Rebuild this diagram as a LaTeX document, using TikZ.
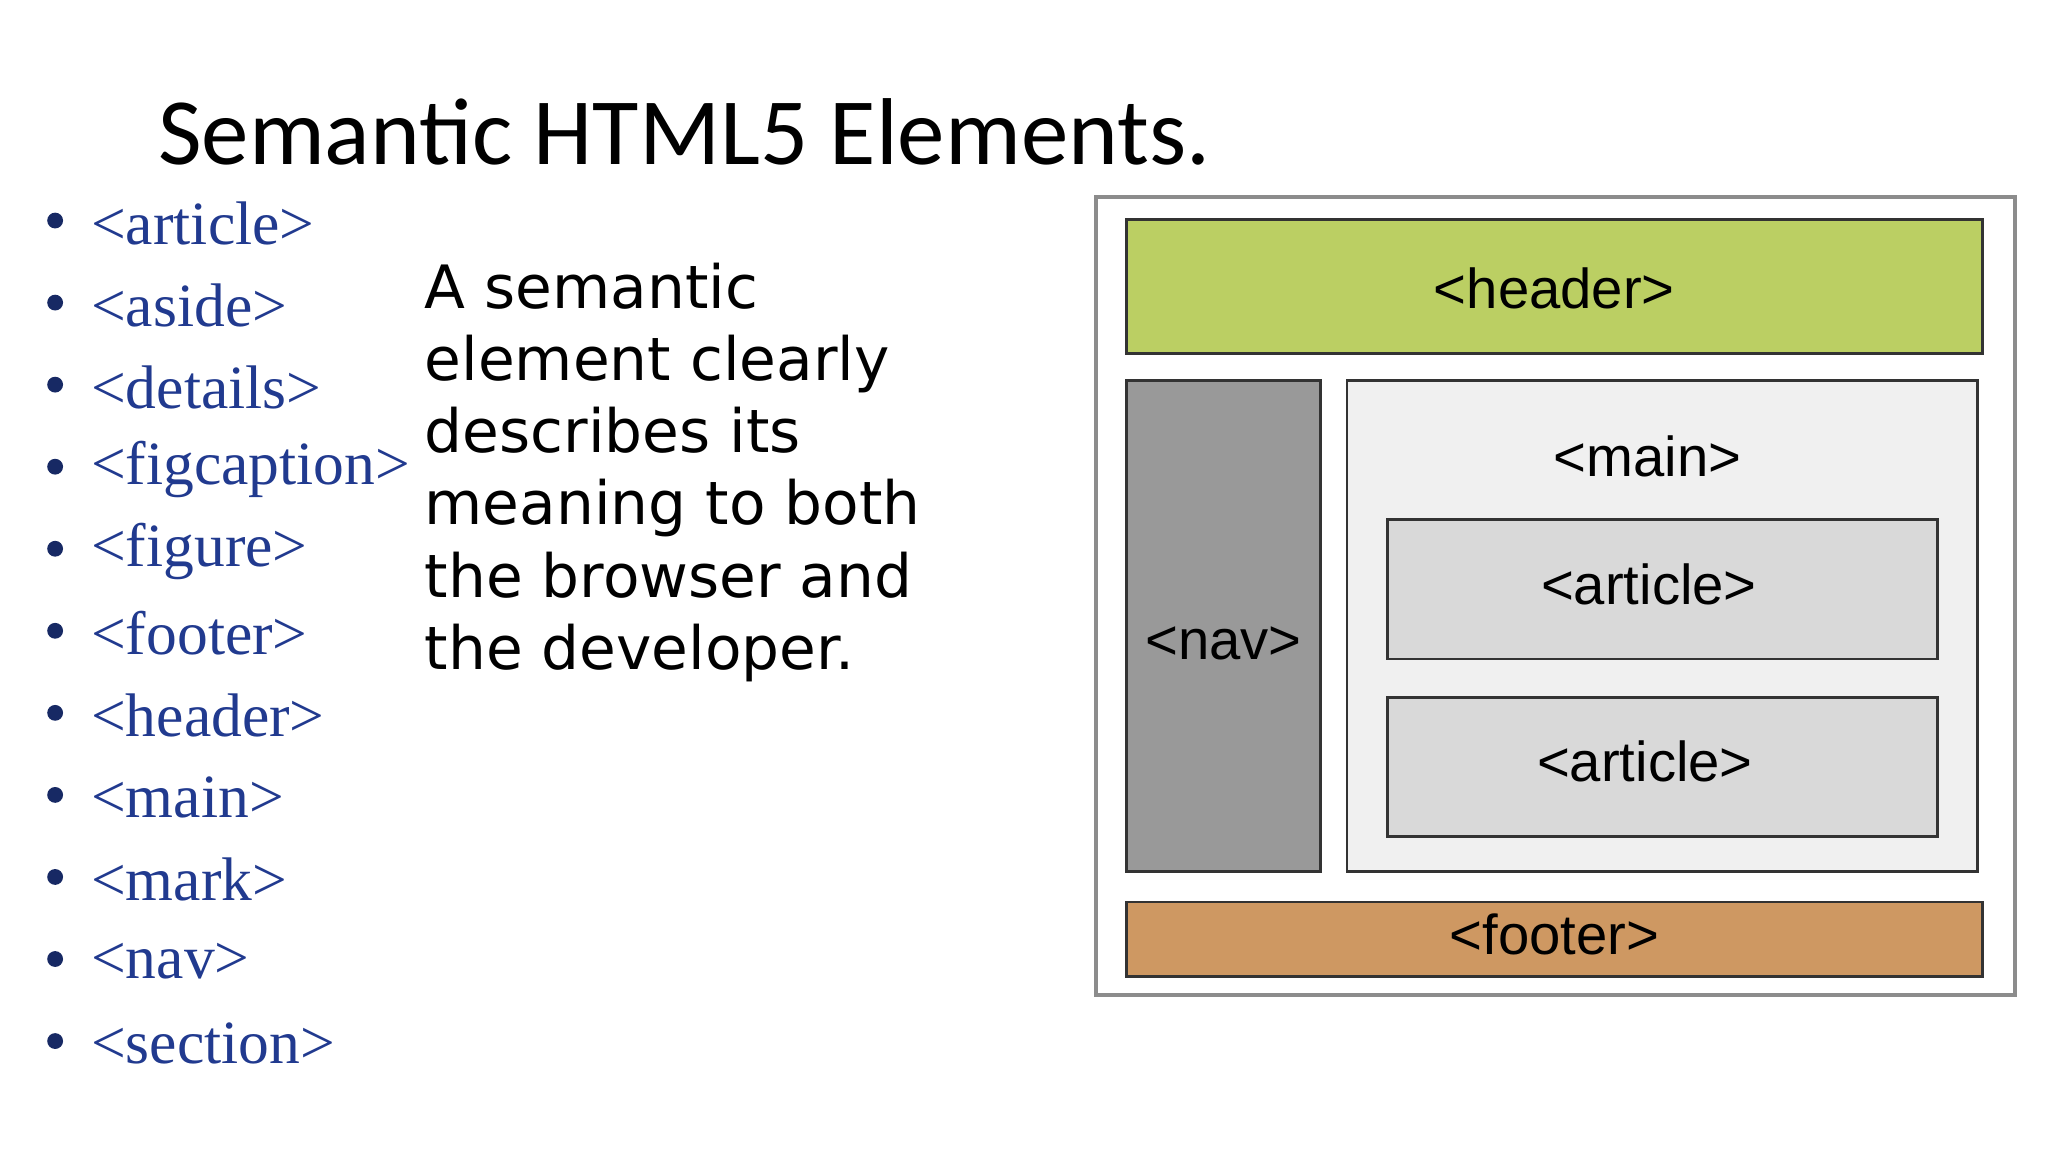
\documentclass[tikz,border=0pt]{standalone}
\usepackage{fontspec}
\setmainfont{Liberation Serif}
\newfontfamily\titlefont{Carlito}
\newfontfamily\parafont{DejaVu Sans}
\newfontfamily\boxfont{Liberation Sans}
\definecolor{navyt}{HTML}{213A8F}
\definecolor{hdr}{HTML}{BBCF63}
\definecolor{ftr}{HTML}{CE9862}
\tikzset{
  lay/.style={draw=black!80, line width=0.8pt},
  lbl/.style={font=\boxfont\fontsize{16}{18}\selectfont, inner sep=0pt},
  item/.style={anchor=west, text=navyt, font=\fontsize{17.5}{20}\selectfont, inner sep=0pt},
  dot/.style={circle, fill=navyt!70!black, inner sep=0pt, minimum size=4.5pt},
}
\begin{document}
\begin{tikzpicture}[x=0.01313cm, y=-0.01313cm]
\useasboundingbox[fill=white] (0,0) rectangle (1560,878);
\node[anchor=base west, inner sep=0pt, font=\titlefont\fontsize{27}{30}\selectfont] (title) at (120,125) {Semantic HTML5 Elements.};
\foreach \t [count=\i] in {article,aside,details,figcaption,figure,footer,header,main,mark,nav,section} {
  \node[dot] (b\i) at (42,{168+62.5*(\i-1)}) {};
  \node[item] (i\i) at (69,{170+62.5*(\i-1)}) {<\t>};
}
\node[anchor=north west, align=left, inner sep=0pt, font=\parafont\fontsize{17}{20.5}\selectfont] (para) at (323,200)
 {A semantic\\element clearly\\describes its\\meaning to both\\the browser and\\the developer.};
\draw[draw=black!45, line width=1.2pt, fill=white] (835,150) rectangle (1535,758);
\draw[lay, fill=hdr] (858,167) rectangle (1510,269);
\node[lbl] (header) at (1184,220) {<header>};
\draw[lay, fill=black!40] (858,290) rectangle (1006,664);
\node[lbl] (nav) at (932,490) {<nav>};
\draw[lay, fill=black!6] (1026,290) rectangle (1506,664);
\node[lbl] (main) at (1255,348) {<main>};
\draw[lay, fill=black!15] (1057,396) rectangle (1476,502);
\node[lbl] (art1) at (1256,445) {<article>};
\draw[lay, fill=black!15] (1057,531) rectangle (1476,637);
\node[lbl] (art2) at (1253,580) {<article>};
\draw[lay, fill=ftr] (858,687) rectangle (1510,744);
\node[lbl] (footer) at (1184,712) {<footer>};
\end{tikzpicture}
\end{document}
